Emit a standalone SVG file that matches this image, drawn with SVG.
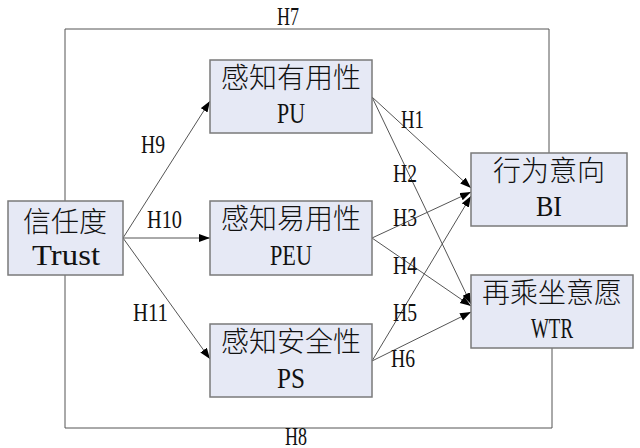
<svg xmlns="http://www.w3.org/2000/svg" width="640" height="448" viewBox="0 0 640 448">
<style>
.box{fill:#e6e9f5;stroke:#7a7a7a;stroke-width:1.5}
.zh{font-family:"Noto Sans CJK SC","Noto Sans CJK TC",serif;font-size:28px;font-weight:300;fill:#111;text-anchor:middle}
.en{font-family:"Liberation Serif",serif;font-size:30px;fill:#111;text-anchor:middle}
.lbl{font-family:"Liberation Serif",serif;font-size:26px;fill:#111}
.ln{fill:none;stroke:#555;stroke-width:1}
</style>
<defs>
<marker id="ah" markerUnits="userSpaceOnUse" markerWidth="12" markerHeight="10" refX="11" refY="4" orient="auto">
<path d="M0,0 L11,4 L0,8 Z" fill="#000"/>
</marker>
</defs>
<rect width="640" height="448" fill="#fff"/>
<g id="connectors">
<polyline class="ln" points="65,201 65,29 549,29 549,153"/>
<polyline class="ln" points="65,275 65,428 552,428 552,348"/>
<line class="ln" x1="123" y1="238" x2="210" y2="101" marker-end="url(#ah)"/>
<line class="ln" x1="123" y1="238" x2="210" y2="238" marker-end="url(#ah)"/>
<line class="ln" x1="123" y1="238" x2="210" y2="359" marker-end="url(#ah)"/>
<line class="ln" x1="372" y1="97" x2="471" y2="188" marker-end="url(#ah)"/>
<line class="ln" x1="372" y1="97" x2="471" y2="304" marker-end="url(#ah)"/>
<line class="ln" x1="372" y1="238" x2="471" y2="192" marker-end="url(#ah)"/>
<line class="ln" x1="372" y1="238" x2="471" y2="306" marker-end="url(#ah)"/>
<line class="ln" x1="372" y1="361" x2="471" y2="196" marker-end="url(#ah)"/>
<line class="ln" x1="372" y1="361" x2="471" y2="312" marker-end="url(#ah)"/>
<text class="lbl" x="277" y="25" textLength="22" lengthAdjust="spacingAndGlyphs">H7</text>
<text class="lbl" x="285" y="445" textLength="22" lengthAdjust="spacingAndGlyphs">H8</text>
<text class="lbl" x="141" y="153" textLength="24" lengthAdjust="spacingAndGlyphs">H9</text>
<text class="lbl" x="147" y="228" textLength="35" lengthAdjust="spacingAndGlyphs">H10</text>
<text class="lbl" x="133" y="321" textLength="35" lengthAdjust="spacingAndGlyphs">H11</text>
<text class="lbl" x="401" y="128" textLength="23" lengthAdjust="spacingAndGlyphs">H1</text>
<text class="lbl" x="393" y="182" textLength="24" lengthAdjust="spacingAndGlyphs">H2</text>
<text class="lbl" x="393" y="226" textLength="24" lengthAdjust="spacingAndGlyphs">H3</text>
<text class="lbl" x="393" y="274" textLength="24" lengthAdjust="spacingAndGlyphs">H4</text>
<text class="lbl" x="393" y="321" textLength="24" lengthAdjust="spacingAndGlyphs">H5</text>
<text class="lbl" x="391" y="367" textLength="24" lengthAdjust="spacingAndGlyphs">H6</text>
</g>
<g id="trust">
<rect class="box" x="8" y="201" width="115" height="74"/>
<text class="zh" x="65" y="232">信任度</text>
<text class="en" x="66" y="265" textLength="68" lengthAdjust="spacingAndGlyphs">Trust</text>
</g>
<g id="pu">
<rect class="box" x="210" y="60" width="162" height="73"/>
<text class="zh" x="291" y="88">感知有用性</text>
<text class="en" x="291" y="123" textLength="28" lengthAdjust="spacingAndGlyphs">PU</text>
</g>
<g id="peu">
<rect class="box" x="210" y="201" width="162" height="74"/>
<text class="zh" x="291" y="229">感知易用性</text>
<text class="en" x="291" y="265" textLength="42" lengthAdjust="spacingAndGlyphs">PEU</text>
</g>
<g id="ps">
<rect class="box" x="210" y="324" width="162" height="73"/>
<text class="zh" x="291" y="352">感知安全性</text>
<text class="en" x="291" y="388" textLength="28" lengthAdjust="spacingAndGlyphs">PS</text>
</g>
<g id="bi">
<rect class="box" x="471" y="153" width="156" height="73"/>
<text class="zh" x="549" y="181">行为意向</text>
<text class="en" x="549" y="216" textLength="26" lengthAdjust="spacingAndGlyphs">BI</text>
</g>
<g id="wtr">
<rect class="box" x="471" y="275" width="162" height="73"/>
<text class="zh" x="552" y="303">再乘坐意愿</text>
<text class="en" x="552" y="338" textLength="42" lengthAdjust="spacingAndGlyphs">WTR</text>
</g>
</svg>
